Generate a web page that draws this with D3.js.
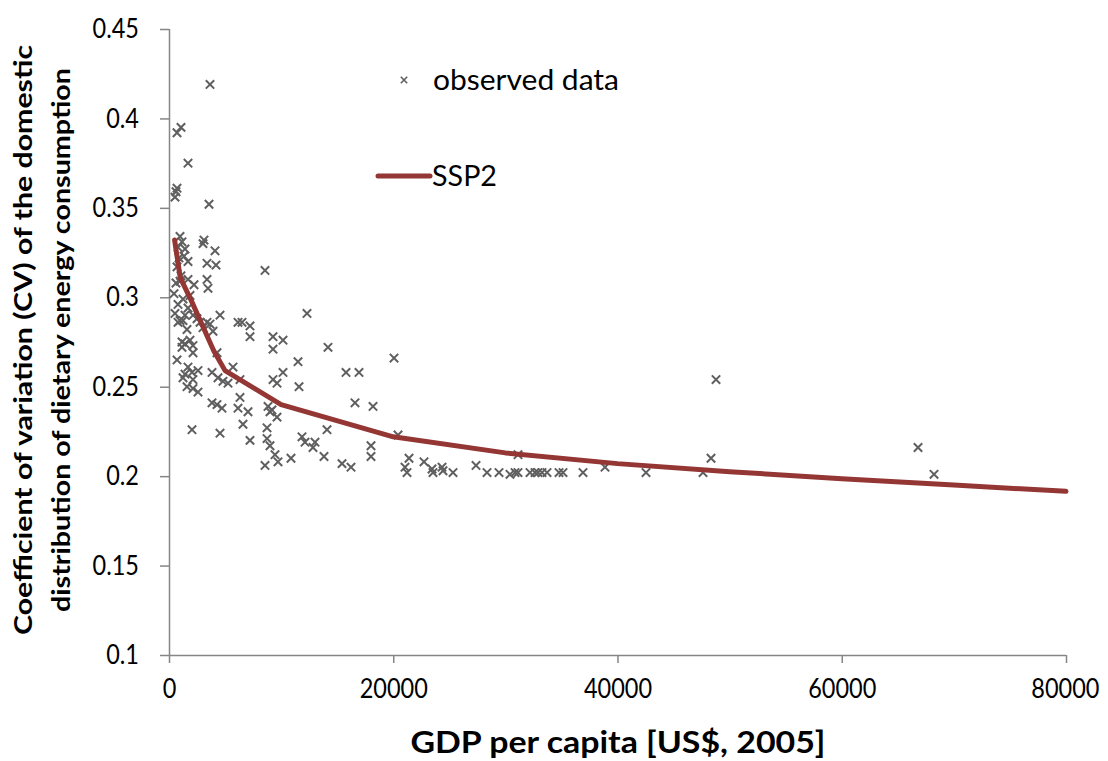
<!DOCTYPE html>
<html><head><meta charset="utf-8">
<script src="https://cdn.jsdelivr.net/npm/d3@7"></script>
<style>body{margin:0;background:#fff}svg{display:block}text{font-family:Lato,"Open Sans",sans-serif}</style>
</head><body>
<script>
// Observed data (GDP per capita, CV)
const obsGDP = [3657,1070,714,1695,714,535,3568,981,1159,803,1427,3122,3032,4103,1695,3389,4192,714,8562,981,1695,2230,3389,3478,1873,1249,803,1695,535,1427,981,2141,2497,4549,2765,3389,3657,3032,3924,6154,6511,7224,7224,9276,9276,1605,1159,1427,1873,2141,1159,2141,714,4281,5708,1695,2587,1427,2051,1249,2141,3835,4370,4816,5262,6332,1605,2141,2587,9276,3835,4281,4727,6332,6154,7046,8830,9008,9633,6600,8741,2051,4549,7224,8741,9008,10168,14181,11506,20068,10168,15787,16946,9633,11595,16589,18195,9454,8562,9722,10881,11862,12130,13022,12843,14092,13824,15430,16233,18016,18016,20425,21406,21049,21227,22743,23457,23546,24349,24438,25330,27381,28362,29433,30414,30860,31127,31127,32198,32643,32911,33268,33714,34784,35141,36925,38887,42544,48787,48341,47628,66803,68230,12308,624,803,1249,9187,446,892,1338,624,1070];
const obsCV = [0.419,0.395,0.392,0.375,0.361,0.356,0.352,0.334,0.331,0.328,0.327,0.332,0.330,0.326,0.320,0.319,0.318,0.317,0.315,0.309,0.310,0.307,0.310,0.305,0.301,0.299,0.296,0.294,0.291,0.290,0.287,0.290,0.288,0.290,0.286,0.286,0.285,0.283,0.281,0.286,0.286,0.284,0.278,0.278,0.271,0.282,0.275,0.274,0.276,0.273,0.272,0.269,0.265,0.269,0.261,0.261,0.259,0.257,0.258,0.255,0.254,0.258,0.255,0.253,0.252,0.254,0.250,0.249,0.247,0.254,0.241,0.240,0.238,0.244,0.238,0.236,0.239,0.236,0.233,0.229,0.227,0.226,0.224,0.220,0.221,0.217,0.276,0.272,0.264,0.266,0.258,0.258,0.258,0.252,0.250,0.241,0.239,0.212,0.206,0.208,0.210,0.222,0.219,0.219,0.216,0.226,0.211,0.207,0.205,0.217,0.211,0.223,0.210,0.205,0.202,0.208,0.204,0.202,0.205,0.203,0.202,0.206,0.202,0.202,0.201,0.202,0.212,0.202,0.202,0.202,0.202,0.202,0.202,0.202,0.202,0.202,0.205,0.202,0.254,0.210,0.202,0.216,0.201,0.291,0.359,0.286,0.287,0.237,0.302,0.322,0.323,0.308,0.312];
// SSP2 curve
const sspGDP = [500,1000,2000,3000,4000,5000,10000,20000,30000,40000,50000,60000,70000,80000];
const sspCV  = [0.332,0.311,0.298,0.284,0.270,0.259,0.240,0.222,0.213,0.207,0.2025,0.1985,0.195,0.1915];
const xTicks = [0,20000,40000,60000,80000];
const yTicks = [0.1,0.15,0.2,0.25,0.3,0.35,0.4,0.45];

const W=1108,H=761;
const svg=d3.select("body").append("svg").attr("width",W).attr("height",H);
const x=d3.scaleLinear().domain([0,80000]).range([169,1066]);
const y=d3.scaleLinear().domain([0.1,0.45]).range([655,29]);
const axisCol="#868686";

function squeeze(sel,f){sel.each(function(){const w=this.getComputedTextLength();d3.select(this).attr("textLength",w*f).attr("lengthAdjust","spacingAndGlyphs");});}

// axes
const gx=svg.append("g").attr("transform","translate(0,655)")
  .call(d3.axisBottom(x).tickValues(xTicks).tickFormat(d3.format("d")).tickSize(8).tickPadding(16));
const gy=svg.append("g").attr("transform","translate(169,0)")
  .call(d3.axisLeft(y).tickValues(yTicks).tickFormat(d=>String(+d.toFixed(2))).tickSize(9).tickPadding(21));
[gx,gy].forEach(g=>{
  g.select(".domain").attr("stroke",axisCol).attr("stroke-width",1.5);
  g.selectAll(".tick line").attr("stroke",axisCol).attr("stroke-width",1.5);
  g.selectAll(".tick text").attr("fill","#000").style("font-size","27px").style("font-family","Lato,'Open Sans',sans-serif");
  squeeze(g.selectAll(".tick text"),0.87);
});
// keep the last x label fully inside the page
gx.selectAll(".tick text").filter(d=>d===80000).attr("text-anchor","end").attr("x",33);
gx.select(".domain").attr("d","M169,0.5H1066");
gy.select(".domain").attr("d","M0.5,29V655");

// scatter
const pts=obsGDP.map((g,i)=>[g,obsCV[i]]);
const s=4.2;
svg.append("g").selectAll("path").data(pts).join("path")
  .attr("d",d=>{const cx=x(d[0]),cy=y(d[1]);return `M${cx-s},${cy-s}L${cx+s},${cy+s}M${cx-s},${cy+s}L${cx+s},${cy-s}`;})
  .attr("stroke","#5f5f5f").attr("stroke-width",2).attr("fill","none");

// line
svg.append("path").datum(sspGDP.map((g,i)=>[g,sspCV[i]]))
  .attr("d",d3.line().x(d=>x(d[0])).y(d=>y(d[1])))
  .attr("fill","none").attr("stroke","#943634").attr("stroke-width",5).attr("stroke-linejoin","round").attr("stroke-linecap","round");

// legend
const ls=3.2;
svg.append("path").attr("d",`M${404-ls},${80-ls}L${404+ls},${80+ls}M${404-ls},${80+ls}L${404+ls},${80-ls}`)
  .attr("stroke","#5f5f5f").attr("stroke-width",1.6);
svg.append("text").attr("x",433).attr("y",80).attr("dy","0.35em").style("font-size","29px")
  .attr("textLength",186).attr("lengthAdjust","spacingAndGlyphs").text("observed data");
svg.append("line").attr("x1",378).attr("x2",430).attr("y1",176).attr("y2",176)
  .attr("stroke","#943634").attr("stroke-width",5).attr("stroke-linecap","round");
svg.append("text").attr("x",432).attr("y",176).attr("dy","0.35em").style("font-size","29px")
  .attr("textLength",65).attr("lengthAdjust","spacingAndGlyphs").text("SSP2");

// titles
svg.append("text").attr("x",618).attr("y",753).attr("text-anchor","middle")
  .style("font-size","30px").style("font-weight","bold").attr("textLength",415).attr("lengthAdjust","spacingAndGlyphs")
  .text("GDP per capita [US$, 2005]");
const yt=svg.append("g").attr("transform","translate(0,340) rotate(-90)");
yt.append("text").attr("x",0).attr("y",32).attr("text-anchor","middle").style("font-size","25px").style("font-weight","bold")
  .attr("textLength",590).attr("lengthAdjust","spacingAndGlyphs").text("Coefficient of variation (CV) of the domestic");
yt.append("text").attr("x",0).attr("y",70).attr("text-anchor","middle").style("font-size","25px").style("font-weight","bold")
  .attr("textLength",544).attr("lengthAdjust","spacingAndGlyphs").text("distribution of dietary energy consumption");
</script>
</body></html>
